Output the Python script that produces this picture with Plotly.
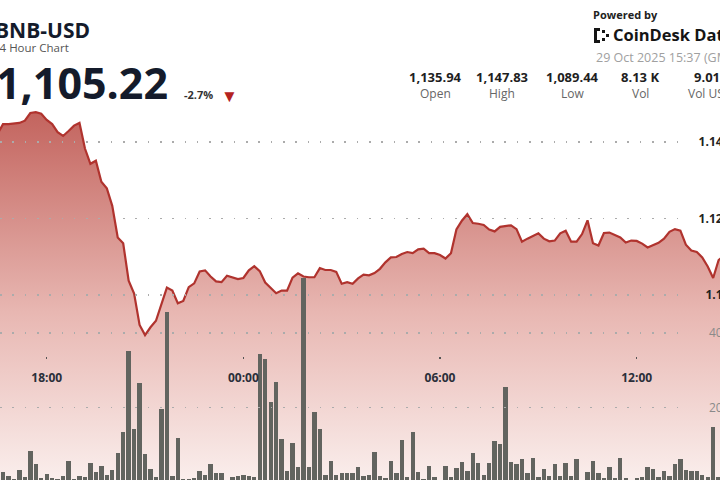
import pandas as pd
import plotly.graph_objects as go

# ---------------- data ----------------
start_time = "2025-10-28 16:30"
n_points = 134
times = pd.date_range(start_time, periods=n_points, freq="10min")

price = [
    1142.1, 1144.7, 1144.7, 1144.9, 1145.0, 1145.6, 1147.6, 1147.83, 1147.4, 1145.8,
    1144.7, 1142.6, 1141.6, 1142.9, 1144.3, 1145.0, 1138.3, 1134.3, 1135.1, 1129.6,
    1127.9, 1123.3, 1115.0, 1113.5, 1103.7, 1100.3, 1092.1, 1089.44, 1091.5, 1093.2,
    1097.8, 1101.9, 1101.1, 1097.8, 1098.4, 1102.0, 1103.0, 1106.1, 1106.4, 1104.8,
    1103.5, 1103.3, 1105.0, 1104.6, 1104.1, 1104.4, 1106.4, 1107.5, 1106.2, 1103.2,
    1101.7, 1100.4, 1101.1, 1101.1, 1104.5, 1105.6, 1104.8, 1104.6, 1104.6, 1107.0,
    1106.5, 1106.5, 1106.0, 1102.9, 1103.3, 1102.9, 1104.3, 1105.3, 1105.1, 1105.7,
    1106.8, 1108.5, 1109.8, 1109.9, 1110.7, 1111.2, 1110.9, 1111.9, 1112.1, 1110.9,
    1110.9, 1110.4, 1109.5, 1110.9, 1117.1, 1119.4, 1121.1, 1118.8, 1118.6, 1118.3,
    1117.1, 1116.6, 1117.8, 1117.9, 1118.2, 1117.2, 1113.9, 1114.7, 1115.3, 1116.1,
    1114.7, 1114.0, 1114.2, 1116.1, 1116.8, 1113.9, 1113.9, 1115.9, 1119.5, 1113.5,
    1112.9, 1116.2, 1116.3, 1115.7, 1115.0, 1113.7, 1114.2, 1114.1, 1113.4, 1112.4,
    1112.9, 1113.6, 1114.7, 1116.5, 1117.2, 1116.8, 1113.1, 1111.6, 1111.2, 1109.8,
    1107.4, 1104.4, 1109.1, 1110.3,
]

volume = [
    19, 26, 17, 8, 33, 15, 84, 48, 10, 22,
    12, 8, 17, 57, 8, 17, 15, 52, 26, 44,
    19, 33, 79, 135, 352, 143, 266, 76, 34, 15,
    197, 458, 16, 118, 8, 8, 10, 29, 19, 48,
    24, 24, 6, 13, 17, 19, 17, 13, 344, 331,
    215, 270, 115, 31, 106, 41, 549, 41, 189, 142,
    19, 58, 19, 24, 24, 25, 41, 16, 19, 82,
    16, 10, 58, 25, 113, 15, 134, 26, 8, 43,
    13, 4, 43, 15, 37, 55, 31, 79, 51, 19,
    52, 111, 102, 256, 53, 48, 61, 24, 64, 15,
    34, 17, 49, 16, 52, 17, 61, 6, 28, 57,
    25, 10, 41, 10, 66, 10, 6, 12, 13, 41,
    34, 15, 30, 17, 48, 62, 33, 30, 30, 19,
    15, 149, 15, 24,
]

price_ticks = [1100, 1120, 1140]
price_tick_text = ["1.1K", "1.12K", "1.14K"]
volume_ticks = [200, 400]
volume_tick_text = ["200", "400"]

stat_values = ["1,135.94", "1,147.83", "1,089.44", "8.13 K", "9.01 M"]
stat_labels = ["Open", "High", "Low", "Vol", "Vol USD"]

symbol = "BNB-USD"
subtitle = "24 Hour Chart"
last_price = "1,105.22"
change_pct = "-2.7%"
timestamp = "29 Oct 2025 15:37 (GMT)"

# ---------------- layout constants ----------------
W, H = 720, 480
FONT = "Open Sans"
price_range = [1051.5, 1177.2]
volume_range = [5.6, 1296]
x_range = ["2025-10-28 16:34:30", "2025-10-29 14:32:30"]


def px(x):
    return x / W


def py(y):
    return 1 - y / H


fig = go.Figure()

fig.add_trace(go.Scatter(
    x=times, y=price, mode="lines",
    line=dict(color="#b0332e", width=2.2),
    fill="tozeroy",
    fillgradient=dict(
        type="vertical",
        colorscale=[[0, "rgb(250,238,236)"], [0.45, "rgb(232,183,178)"], [1, "rgb(194,98,92)"]],
        start=price_range[0], stop=1149,
    ),
    xaxis="x", yaxis="y", showlegend=False, hoverinfo="skip",
))

fig.add_trace(go.Bar(
    x=times, y=volume,
    marker=dict(color="rgb(98,100,95)", line=dict(width=0)),
    width=8 * 60 * 1000,
    xaxis="x", yaxis="y2", showlegend=False, hoverinfo="skip",
))

# grid / label helper traces (empty)
fig.add_trace(go.Scatter(x=[None], y=[None], xaxis="x2", yaxis="y3", showlegend=False, hoverinfo="skip"))
fig.add_trace(go.Scatter(x=[None], y=[None], xaxis="x2", yaxis="y4", showlegend=False, hoverinfo="skip"))

grid_dash = "1.6px,10.7px"
grid_color = "#ababab"

fig.update_layout(
    template="none",
    width=W, height=H,
    margin=dict(l=0, r=0, t=0, b=0, pad=0, autoexpand=False),
    paper_bgcolor="white", plot_bgcolor="rgba(0,0,0,0)",
    bargap=0,
    xaxis=dict(
        type="date", range=x_range, domain=[0, 1], automargin=False,
        anchor="free", position=py(356),
        tickformat="%H:%M", dtick=6 * 3600 * 1000, tick0="2025-10-28 00:00",
        ticks="outside", ticklen=2, tickwidth=1.5, tickcolor="#555",
        ticklabelstandoff=9,
        tickfont=dict(family=FONT, size=12, color="#2b2f3a", weight="bold"),
        showgrid=False, zeroline=False, showline=False,
    ),
    yaxis=dict(range=price_range, visible=False, showgrid=False, zeroline=False, automargin=False),
    yaxis2=dict(range=volume_range, overlaying="y", visible=False, showgrid=False,
                zeroline=False, automargin=False),
    xaxis2=dict(domain=[0, 0.955], range=[0, 1], visible=False, anchor="y3", automargin=False),
    yaxis3=dict(
        anchor="x2", side="right", range=price_range, domain=[0, 1], automargin=False,
        tickvals=price_ticks, ticktext=price_tick_text,
        ticklabelposition="inside", ticklabelstandoff=-46, ticks="",
        tickfont=dict(family=FONT, size=12, color="#222", weight="bold"),
        showgrid=True, gridcolor=grid_color, gridwidth=1.6, griddash=grid_dash,
        zeroline=False, showline=False,
    ),
    yaxis4=dict(
        anchor="x2", side="right", overlaying="y3", range=volume_range, automargin=False,
        tickvals=volume_ticks, ticktext=volume_tick_text,
        ticklabelposition="inside", ticklabelstandoff=-45, ticks="",
        tickfont=dict(family=FONT, size=12, color="#8a8a8a"),
        showgrid=True, gridcolor=grid_color, gridwidth=1.6, griddash=grid_dash,
        zeroline=False, showline=False,
    ),
)

ann = []


def text(t, x, y, size, color, weight="normal", xanchor="left", yanchor="middle"):
    ann.append(dict(
        text=t, x=px(x), y=py(y), xref="paper", yref="paper",
        xanchor=xanchor, yanchor=yanchor, showarrow=False,
        font=dict(family=FONT, size=size, color=color, weight=weight),
    ))


text(symbol, -7, 30, 21, "#141b2b", "bold")
text(subtitle, -9, 48, 11.5, "#555", "normal")
text(last_price, -6, 82, 43, "#141b2b", "bold")
text(change_pct, 182, 95, 11, "#333", "bold")
text("▼", 229, 96, 17, "#b4231f", "normal", xanchor="center")

value_x = [435, 502, 572, 640, 715]
label_x = [435, 502, 572, 640, 710]
for v, lab, vx, lx in zip(stat_values, stat_labels, value_x, label_x):
    text(v, vx, 77, 13, "#1e1e1e", "bold", xanchor="center")
    text(lab, lx, 94, 12, "#666", "normal", xanchor="center")

text("Powered by", 591, 14, 11, "#222", "bold")
text("CoinDesk Data", 611, 35, 16.5, "#151515", "bold")
text(timestamp, 594, 57, 12.5, "#a0a0a0", "normal")

fig.update_layout(annotations=ann)

# small CoinDesk-like logo mark
logo = [
    (594, 28, 597, 43),
    (597, 28, 600, 31),
    (597, 40, 600, 43),
    (602, 30, 605, 33),
    (602, 38, 605, 41),
    (606, 34, 609, 37),
]
for x0, y0, x1, y1 in logo:
    fig.add_shape(type="rect", xref="paper", yref="paper",
                  x0=px(x0), x1=px(x1), y0=py(y1), y1=py(y0),
                  fillcolor="#151515", line=dict(width=0))

fig.write_html(
    "out.html",
    config={"displayModeBar": False, "staticPlot": True},
    post_script="document.body.style.margin='0';document.body.style.overflow='hidden';",
)
